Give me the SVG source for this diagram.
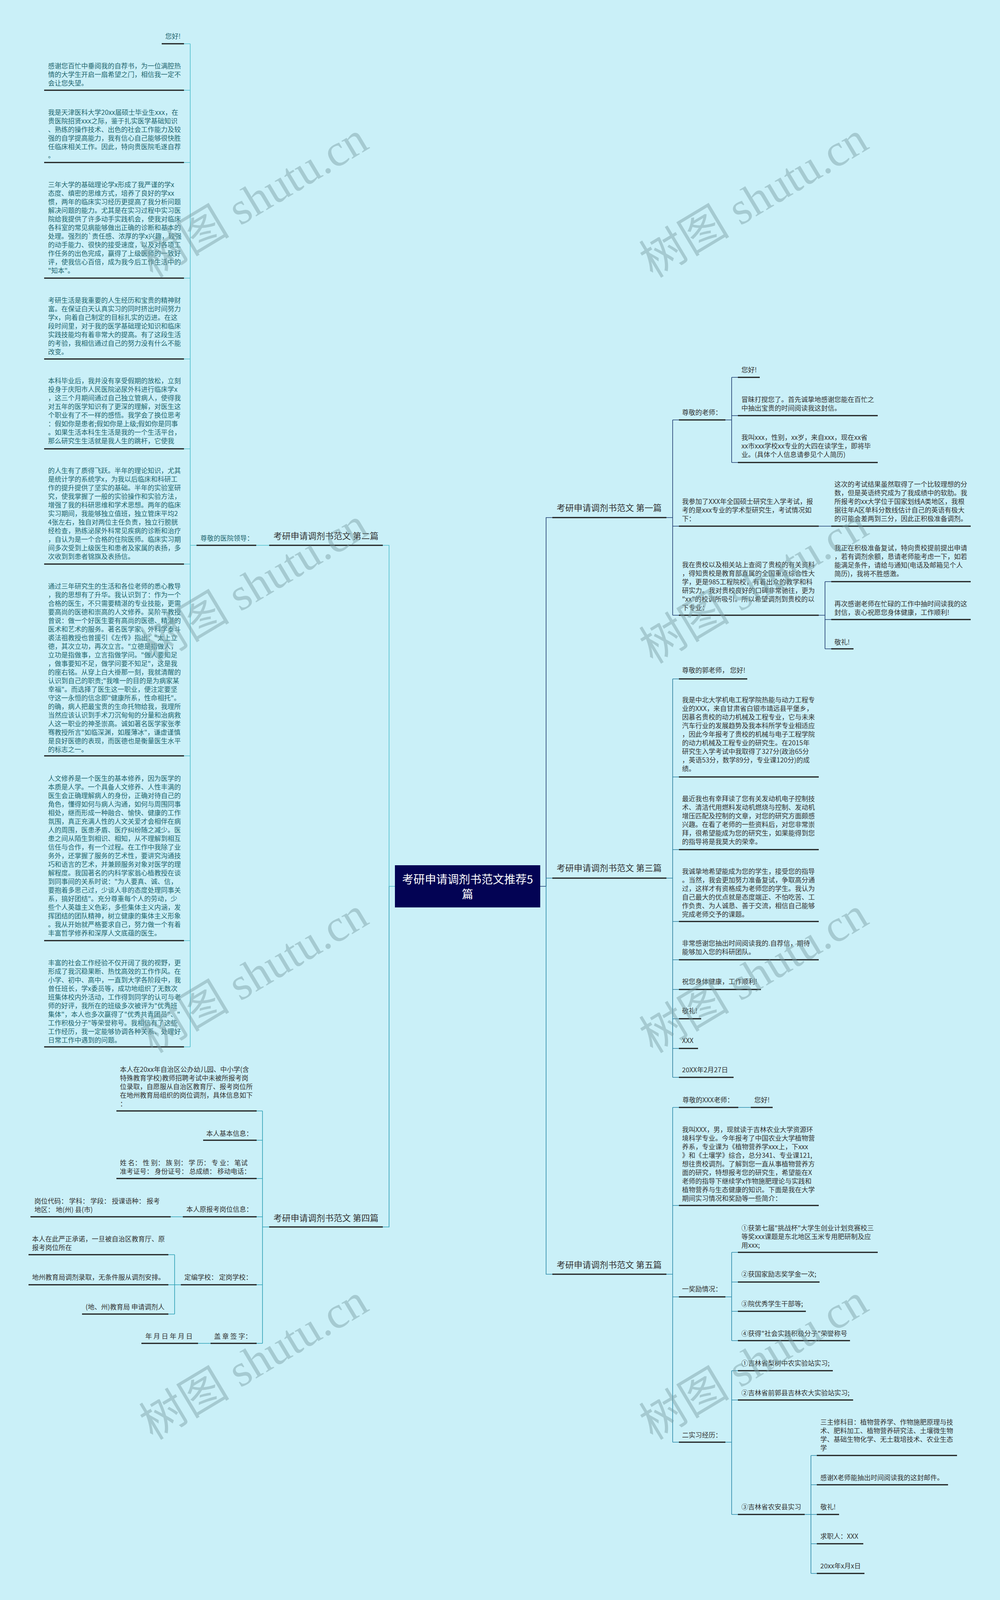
<svg xmlns="http://www.w3.org/2000/svg" width="2560" height="4102" viewBox="0 0 2560 4102">
<style>
.t{font-family:"Noto Sans CJK SC","Liberation Sans",sans-serif;font-size:17px;fill:#333}
.g{fill:#22666f}
.lab{font-family:"Noto Sans CJK SC","Liberation Sans",sans-serif;font-size:22px;fill:#333}
.root{font-family:"Noto Sans CJK SC","Liberation Sans",sans-serif;font-size:29px;fill:#fff;text-anchor:middle}
.ul{stroke:#1a1a1a;stroke-width:3;fill:none}
.c{fill:none;stroke-width:1.6}
.c1{stroke:#1d3b6e}.c2{stroke:#4fbfcc}.c3{stroke:#2a7d9c}.c4{stroke:#2c9fb4}.c5{stroke:#2b89a8}
.wm{font-family:"Liberation Serif","Noto Sans CJK SC",serif;font-size:116px;fill:#7a9ea3;opacity:0.45;text-anchor:middle;dominant-baseline:central}
</style>
<rect width="2560" height="4102" fill="#caf0f8"/>

<g id="connectors">
<path class="c c1" d="M1383 2269H1398V1325H1414M1706 1325H1722M1722 1075V1575M1722 1075H1738M1722 1347H1738M1722 1575H1738M1857 1075H1873M1873 966V1184M1873 966H1889M1873 1064H1889M1873 1184H1889M2096 1347H2128M2096 1575H2112M2112 1489V1661M2112 1489H2128M2112 1586H2128M2112 1661H2128"/>
<path class="c c2" d="M1011 2269H996V1396H980M689 1396H656M503 1396H487M487 112V2680M471 112H487M471 231H487M471 416H487M471 712H487M471 919H487M471 1149H487M471 1444H487M471 1935H487M471 2408H487M471 2680H487"/>
<path class="c c4" d="M996 2269V3141H980M689 3141H672M672 2844V3439M657 2844H672M657 2919H672M657 3017H672M657 3115H672M657 3289H672M657 3439H672M468 3115H437M463 3289H447M447 3212V3364M447 3212H431M447 3289H431M447 3364H431M539 3439H507"/>
<path class="c c3" d="M1398 2269V2248H1414M1706 2248H1722M1722 1738V2758M1722 1738H1738M1722 1989H1738M1722 2175H1738M1722 2359H1738M1722 2457H1738M1722 2533H1738M1722 2608H1738M1722 2684H1738M1722 2758H1738"/>
<path class="c c5" d="M1398 2269V3262H1414M1706 3262H1722M1722 2835V3692M1722 2835H1738M1722 3086H1738M1722 3320H1738M1722 3692H1738M1890 2835H1922M1857 3320H1873M1873 3206V3432M1873 3206H1889M1873 3282H1889M1873 3357H1889M1873 3432H1889M1857 3692H1873M1873 3509V3877M1873 3509H1889M1873 3584H1889M1873 3877H1889M2060 3877H2076M2076 3726V4028M2076 3726H2091M2076 3801H2091M2076 3877H2091M2076 3952H2091M2076 4028H2091"/>
</g>

<g id="root">
<rect x="1011" y="2215" width="372" height="108" fill="#030354"/>
<text class="root" x="1197" y="2262">考研申请调剂书范文推荐5</text>
<text class="root" x="1197" y="2300">篇</text>
</g>

<g id="b2">
<text class="lab" x="700" y="1380">考研申请调剂书范文 第二篇</text>
<line class="ul" x1="689" y1="1396" x2="980" y2="1396"/>
</g>
<g id="b2-lead">
<text class="t g" x="513" y="1384" font-size="16">尊敬的医院领导：</text>
<line class="ul" x1="503" y1="1396" x2="656" y2="1396"/>
</g>
<g id="b2-1">
<text class="t g" x="423" y="99">您好!</text>
<line class="ul" x1="414" y1="112" x2="471" y2="112"/>
</g>
<g id="b2-2">
<text class="t g" x="123" y="175"><tspan x="123">感谢您百忙中垂阅我的自荐书，为一位满腔热</tspan><tspan x="123" dy="22">情的大学生开启一扇希望之门，相信我一定不</tspan><tspan x="123" dy="22">会让您失望。</tspan></text>
<line class="ul" x1="113" y1="231" x2="471" y2="231"/>
</g>
<g id="b2-3">
<text class="t g" x="123" y="294"><tspan x="123">我是天津医科大学20xx届硕士毕业生xxx，在</tspan><tspan x="123" dy="22">贵医院招贤xxx之际，鉴于扎实医学基础知识</tspan><tspan x="123" dy="22">、熟练的操作技术、出色的社会工作能力及较</tspan><tspan x="123" dy="22">强的自学提高能力，我有信心自己能够很快胜</tspan><tspan x="123" dy="22">任临床相关工作。因此，特向贵医院毛遂自荐</tspan><tspan x="123" dy="22">。</tspan></text>
<line class="ul" x1="113" y1="416" x2="471" y2="416"/>
</g>
<g id="b2-4">
<text class="t g" x="123" y="479"><tspan x="123">三年大学的基础理论学x形成了我严谨的学x</tspan><tspan x="123" dy="22">态度、缜密的思维方式，培养了良好的学xx</tspan><tspan x="123" dy="22">惯，两年的临床实习经历更提高了我分析问题</tspan><tspan x="123" dy="22">解决问题的能力。尤其是在实习过程中实习医</tspan><tspan x="123" dy="22">院给我提供了许多动手实践机会，使我对临床</tspan><tspan x="123" dy="22">各科室的常见病能够做出正确的诊断和基本的</tspan><tspan x="123" dy="22">处理。强烈的`责任感、浓厚的学x兴趣，较强</tspan><tspan x="123" dy="22">的动手能力、很快的接受速度，以及对各项工</tspan><tspan x="123" dy="22">作任务的出色完成，赢得了上级医师的一致好</tspan><tspan x="123" dy="22">评，使我信心百倍，成为我今后工作生活中的</tspan><tspan x="123" dy="22">"知本"。</tspan></text>
<line class="ul" x1="113" y1="712" x2="471" y2="712"/>
</g>
<g id="b2-5">
<text class="t g" x="123" y="775"><tspan x="123">考研生活是我重要的人生经历和宝贵的精神财</tspan><tspan x="123" dy="22">富。在保证白天认真实习的同时挤出时间努力</tspan><tspan x="123" dy="22">学x，向着自己制定的目标扎实的迈进。在这</tspan><tspan x="123" dy="22">段时间里，对于我的医学基础理论知识和临床</tspan><tspan x="123" dy="22">实践技能均有着非常大的提高。有了这段生活</tspan><tspan x="123" dy="22">的考验，我相信通过自己的努力没有什么不能</tspan><tspan x="123" dy="22">改变。</tspan></text>
<line class="ul" x1="113" y1="919" x2="471" y2="919"/>
</g>
<g id="b2-6">
<text class="t g" x="123" y="981"><tspan x="123">本科毕业后，我并没有享受假期的放松，立刻</tspan><tspan x="123" dy="22">投身于庆阳市人民医院泌尿外科进行临床学x</tspan><tspan x="123" dy="22">，这三个月期间通过自己独立管病人，使得我</tspan><tspan x="123" dy="22">对五年的医学知识有了更深的理解，对医生这</tspan><tspan x="123" dy="22">个职业有了不一样的感悟。我学会了换位思考</tspan><tspan x="123" dy="22">：假如你是患者;假如你是上级;假如你是同事</tspan><tspan x="123" dy="22">。如果生活本科生生活是我的一个生活平台，</tspan><tspan x="123" dy="22">那么研究生生活就是我人生的跳杆，它使我</tspan></text>
<line class="ul" x1="113" y1="1149" x2="471" y2="1149"/>
</g>
<g id="b2-7">
<text class="t g" x="123" y="1211"><tspan x="123">的人生有了质得飞跃。半年的理论知识，尤其</tspan><tspan x="123" dy="22">是统计学的系统学x，为我以后临床和科研工</tspan><tspan x="123" dy="22">作的提升提供了坚实的基础。半年的实验室研</tspan><tspan x="123" dy="22">究，使我掌握了一般的实验操作和实验方法，</tspan><tspan x="123" dy="22">增强了我的科研思维和学术思想。两年的临床</tspan><tspan x="123" dy="22">实习期间，我能够独立值班，独立管床平均2</tspan><tspan x="123" dy="22">4张左右，独自对两位主任负责，独立行膀胱</tspan><tspan x="123" dy="22">经检查，熟练泌尿外科常见疾病的诊断和治疗</tspan><tspan x="123" dy="22">，自认为是一个合格的住院医师。临床实习期</tspan><tspan x="123" dy="22">间多次受到上级医生和患者及家属的表扬，多</tspan><tspan x="123" dy="22">次收到到患者锦旗及表扬信。</tspan></text>
<line class="ul" x1="113" y1="1444" x2="471" y2="1444"/>
</g>
<g id="b2-8">
<text class="t g" x="123" y="1507"><tspan x="123">通过三年研究生的生活和各位老师的悉心教导</tspan><tspan x="123" dy="22">，我的思想有了升华。我认识到了：作为一个</tspan><tspan x="123" dy="22">合格的医生，不只需要精湛的专业技能，更需</tspan><tspan x="123" dy="22">要高尚的医德和崇高的人文修养。吴阶平教授</tspan><tspan x="123" dy="22">曾说：做一个好医生要有高尚的医德、精湛的</tspan><tspan x="123" dy="22">医术和艺术的服务。著名医学家、外科学泰斗</tspan><tspan x="123" dy="22">裘法祖教授也曾援引《左传》指出："太上立</tspan><tspan x="123" dy="22">德，其次立功，再次立言。"立德是指做人，</tspan><tspan x="123" dy="22">立功是指做事，立言指做学问。"做人要知足</tspan><tspan x="123" dy="22">，做事要知不足，做学问要不知足"，这是我</tspan><tspan x="123" dy="22">的座右铭。从穿上白大褂那一刻，我就清醒的</tspan><tspan x="123" dy="22">认识到自己的职责;"我唯一的目的是为病家某</tspan><tspan x="123" dy="22">幸福"。而选择了医生这一职业，便注定要坚</tspan><tspan x="123" dy="22">守这一永恒的信念即"健康所系，性命相托"。</tspan><tspan x="123" dy="22">的确，病人把最宝贵的生命托物给我，我理所</tspan><tspan x="123" dy="22">当然应该认识到手术刀沉甸甸的分量和治病救</tspan><tspan x="123" dy="22">人这一职业的神圣崇高。诚如著名医学家张孝</tspan><tspan x="123" dy="22">骞教授所言"如临深渊，如履薄冰"，谦虚谨慎</tspan><tspan x="123" dy="22">是良好医德的表现，而医德也是衡量医生水平</tspan><tspan x="123" dy="22">的标志之一。</tspan></text>
<line class="ul" x1="113" y1="1935" x2="471" y2="1935"/>
</g>
<g id="b2-9">
<text class="t g" x="123" y="1999"><tspan x="123">人文修养是一个医生的基本修养，因为医学的</tspan><tspan x="123" dy="22">本质是人学。一个具备人文修养、人性丰满的</tspan><tspan x="123" dy="22">医生会正确理解病人的身份，正确对待自己的</tspan><tspan x="123" dy="22">角色，懂得如何与病人沟通，如何与周围同事</tspan><tspan x="123" dy="22">相处，继而形成一种融合、愉快、健康的工作</tspan><tspan x="123" dy="22">氛围，真正充满人性的人文关爱才会相伴在病</tspan><tspan x="123" dy="22">人的周围，医患矛盾、医疗纠纷随之减少。医</tspan><tspan x="123" dy="22">患之间从陌生到相识、相知，从不理解到相互</tspan><tspan x="123" dy="22">信任与合作，有一个过程。在工作中我除了业</tspan><tspan x="123" dy="22">务外，还掌握了服务的艺术性，要讲究沟通技</tspan><tspan x="123" dy="22">巧和语言的艺术，并兼顾服务对象对医学的理</tspan><tspan x="123" dy="22">解程度。我国著名的内科学家翁心植教授在谈</tspan><tspan x="123" dy="22">到同事间的关系时说："为人要真、诚、信，</tspan><tspan x="123" dy="22">要抱着多思己过，少谈人非的态度处理同事关</tspan><tspan x="123" dy="22">系，搞好团结"。充分尊重每个人的劳动，少</tspan><tspan x="123" dy="22">些个人英雄主义色彩，多些集体主义内涵，发</tspan><tspan x="123" dy="22">挥团结的团队精神，树立健康的集体主义形象</tspan><tspan x="123" dy="22">。我从开始就严格要求自己，努力做一个有着</tspan><tspan x="123" dy="22">丰富哲学修养和深厚人文底蕴的医生。</tspan></text>
<line class="ul" x1="113" y1="2408" x2="471" y2="2408"/>
</g>
<g id="b2-10">
<text class="t g" x="123" y="2471"><tspan x="123">丰富的社会工作经验不仅开阔了我的视野，更</tspan><tspan x="123" dy="22">形成了我沉稳果断、热忱高效的工作作风。在</tspan><tspan x="123" dy="22">小学、初中、高中，一直到大学各阶段中，我</tspan><tspan x="123" dy="22">曾任班长，学x委员等，成功地组织了无数次</tspan><tspan x="123" dy="22">班集体校内外活动，工作得到同学的认可与老</tspan><tspan x="123" dy="22">师的好评，我所在的班级多次被评为"优秀班</tspan><tspan x="123" dy="22">集体"，本人也多次赢得了"优秀共青团员"、"</tspan><tspan x="123" dy="22">工作积极分子"等荣誉称号。我相信有了这些</tspan><tspan x="123" dy="22">工作经历，我一定能够协调各种关系、处理好</tspan><tspan x="123" dy="22">日常工作中遇到的问题。</tspan></text>
<line class="ul" x1="113" y1="2680" x2="471" y2="2680"/>
</g>

<g id="b4">
<text class="lab" x="700" y="3126">考研申请调剂书范文 第四篇</text>
<line class="ul" x1="689" y1="3141" x2="980" y2="3141"/>
</g>
<g id="b4-1">
<text class="t" x="307" y="2744"><tspan x="307">本人在20xx年自治区公办幼儿园、中小学(含</tspan><tspan x="307" dy="22">特殊教育学校)教师招聘考试中未被所报考岗</tspan><tspan x="307" dy="22">位录取，自愿服从自治区教育厅、报考岗位所</tspan><tspan x="307" dy="22">在地州教育局组织的岗位调剂，具体信息如下</tspan><tspan x="307" dy="22">：</tspan></text>
<line class="ul" x1="298" y1="2844" x2="657" y2="2844"/>
</g>
<g id="b4-2">
<text class="t" x="528" y="2908">本人基本信息：</text>
<line class="ul" x1="520" y1="2919" x2="657" y2="2919"/>
</g>
<g id="b4-3">
<text class="t" x="307" y="2983"><tspan x="307">姓 名： 性 别： 族 别： 学 历： 专 业： 笔试</tspan><tspan x="307" dy="22">准考证号： 身份证号： 总成绩： 移动电话：</tspan></text>
<line class="ul" x1="298" y1="3017" x2="657" y2="3017"/>
</g>
<g id="b4-4">
<text class="t" x="477" y="3102">本人原报考岗位信息：</text>
<line class="ul" x1="468" y1="3115" x2="657" y2="3115"/>
</g>
<g id="b4-4-1">
<text class="t" x="88" y="3081"><tspan x="88">岗位代码： 学科： 学段： 授课语种： 报考</tspan><tspan x="88" dy="22">地区： 地(州) 县(市)</tspan></text>
<line class="ul" x1="78" y1="3115" x2="437" y2="3115"/>
</g>
<g id="b4-5">
<text class="t" x="472" y="3276">定编学校： 定岗学校：</text>
<line class="ul" x1="463" y1="3289" x2="657" y2="3289"/>
</g>
<g id="b4-5-1">
<text class="t" x="82" y="3178"><tspan x="82">本人在此严正承诺，一旦被自治区教育厅、原</tspan><tspan x="82" dy="22">报考岗位所在</tspan></text>
<line class="ul" x1="73" y1="3212" x2="431" y2="3212"/>
</g>
<g id="b4-5-2">
<text class="t" x="82" y="3276">地州教育局调剂录取，无条件服从调剂安排。</text>
<line class="ul" x1="73" y1="3289" x2="431" y2="3289"/>
</g>
<g id="b4-5-3">
<text class="t" x="219" y="3352">(地、州)教育局 申请调剂人</text>
<line class="ul" x1="210" y1="3364" x2="431" y2="3364"/>
</g>
<g id="b4-6">
<text class="t" x="548" y="3427">盖 章 签 字：</text>
<line class="ul" x1="539" y1="3439" x2="657" y2="3439"/>
</g>
<g id="b4-6-1">
<text class="t" x="372" y="3427">年 月 日 年 月 日</text>
<line class="ul" x1="362" y1="3439" x2="507" y2="3439"/>
</g>

<g id="b1">
<text class="lab" x="1425" y="1308">考研申请调剂书范文 第一篇</text>
<line class="ul" x1="1414" y1="1325" x2="1706" y2="1325"/>
</g>
<g id="b1-1">
<text class="t" x="1746" y="1062">尊敬的老师：</text>
<line class="ul" x1="1738" y1="1075" x2="1857" y2="1075"/>
</g>
<g id="b1-1-1">
<text class="t" x="1898" y="953">您好!</text>
<line class="ul" x1="1889" y1="966" x2="1945" y2="966"/>
</g>
<g id="b1-1-2">
<text class="t" x="1898" y="1029"><tspan x="1898">冒昧打搅您了。首先诚挚地感谢您能在百忙之</tspan><tspan x="1898" dy="22">中抽出宝贵的时间阅读我这封信。</tspan></text>
<line class="ul" x1="1889" y1="1064" x2="2247" y2="1064"/>
</g>
<g id="b1-1-3">
<text class="t" x="1898" y="1126"><tspan x="1898">我叫xxx，性别，xx岁，来自xxx，现在xx省</tspan><tspan x="1898" dy="22">xx市xxx学校xx专业的大四在读学生，即将毕</tspan><tspan x="1898" dy="22">业。(具体个人信息请参见个人简历)</tspan></text>
<line class="ul" x1="1889" y1="1184" x2="2247" y2="1184"/>
</g>
<g id="b1-2">
<text class="t" x="1746" y="1290"><tspan x="1746">我参加了XXX年全国硕士研究生入学考试，报</tspan><tspan x="1746" dy="22">考的是xxx专业的学术型研究生，考试情况如</tspan><tspan x="1746" dy="22">下：</tspan></text>
<line class="ul" x1="1738" y1="1347" x2="2096" y2="1347"/>
</g>
<g id="b1-2-1">
<text class="t" x="2136" y="1246"><tspan x="2136">这次的考试结果虽然取得了一个比较理想的分</tspan><tspan x="2136" dy="22">数，但是英语终究成为了我成绩中的软肋。我</tspan><tspan x="2136" dy="22">所报考的xx大学位于国家划线A类地区，我根</tspan><tspan x="2136" dy="22">据往年A区单科分数线估计自己的英语有极大</tspan><tspan x="2136" dy="22">的可能会差两到三分，因此正积极准备调剂。</tspan></text>
<line class="ul" x1="2128" y1="1347" x2="2485" y2="1347"/>
</g>
<g id="b1-3">
<text class="t" x="1746" y="1452"><tspan x="1746">我在贵校以及相关站上查阅了贵校的有关资料</tspan><tspan x="1746" dy="22">，得知贵校是教育部直属的全国重点综合性大</tspan><tspan x="1746" dy="22">学，更是985工程院校，有着出众的教学和科</tspan><tspan x="1746" dy="22">研实力。我对贵校良好的口碑非常驰往，更为</tspan><tspan x="1746" dy="22">"xx"的校训所吸引。所以希望调剂到贵校的以</tspan><tspan x="1746" dy="22">下专业：</tspan></text>
<line class="ul" x1="1738" y1="1575" x2="2096" y2="1575"/>
</g>
<g id="b1-3-1">
<text class="t" x="2136" y="1409"><tspan x="2136">我正在积极准备复试，特向贵校提前提出申请</tspan><tspan x="2136" dy="22">，若有调剂余额，恳请老师能考虑一下，如若</tspan><tspan x="2136" dy="22">能满足条件，请给与通知(电话及邮箱见个人</tspan><tspan x="2136" dy="22">简历)，我将不胜感激。</tspan></text>
<line class="ul" x1="2128" y1="1489" x2="2485" y2="1489"/>
</g>
<g id="b1-3-2">
<text class="t" x="2136" y="1552"><tspan x="2136">再次感谢老师在忙碌的工作中抽时间读我的这</tspan><tspan x="2136" dy="22">封信，衷心祝愿您身体健康，工作顺利!</tspan></text>
<line class="ul" x1="2128" y1="1586" x2="2485" y2="1586"/>
</g>
<g id="b1-3-3">
<text class="t" x="2136" y="1650">敬礼!</text>
<line class="ul" x1="2128" y1="1661" x2="2185" y2="1661"/>
</g>

<g id="b3">
<text class="lab" x="1425" y="2230">考研申请调剂书范文 第三篇</text>
<line class="ul" x1="1414" y1="2248" x2="1706" y2="2248"/>
</g>
<g id="b3-1">
<text class="t" x="1746" y="1722">尊敬的郭老师， 您好!</text>
<line class="ul" x1="1738" y1="1738" x2="1913" y2="1738"/>
</g>
<g id="b3-2">
<text class="t" x="1746" y="1798"><tspan x="1746">我是中北大学机电工程学院热能与动力工程专</tspan><tspan x="1746" dy="22">业的XXX，来自甘肃省白银市靖远县平堡乡，</tspan><tspan x="1746" dy="22">因慕名贵校的动力机械及工程专业，它与未来</tspan><tspan x="1746" dy="22">汽车行业的发展趋势及我本科所学专业相适应</tspan><tspan x="1746" dy="22">，因此今年报考了贵校的机械与电子工程学院</tspan><tspan x="1746" dy="22">的动力机械及工程专业的研究生。在2015年</tspan><tspan x="1746" dy="22">研究生入学考试中我取得了327分(政治65分</tspan><tspan x="1746" dy="22">，英语53分，数学89分，专业课120分)的成</tspan><tspan x="1746" dy="22">绩。</tspan></text>
<line class="ul" x1="1738" y1="1989" x2="2096" y2="1989"/>
</g>
<g id="b3-3">
<text class="t" x="1746" y="2051"><tspan x="1746">最近我也有幸拜读了您有关发动机电子控制技</tspan><tspan x="1746" dy="22">术、清洁代用燃料发动机燃烧与控制、发动机</tspan><tspan x="1746" dy="22">增压匹配及控制的文章，对您的研究方面颇感</tspan><tspan x="1746" dy="22">兴趣。在看了老师的一些资料后，对您非常崇</tspan><tspan x="1746" dy="22">拜，很希望能成为您的研究生，如果能得到您</tspan><tspan x="1746" dy="22">的指导将是我莫大的荣幸。</tspan></text>
<line class="ul" x1="1738" y1="2175" x2="2096" y2="2175"/>
</g>
<g id="b3-4">
<text class="t" x="1746" y="2237"><tspan x="1746">我诚挚地希望能成为您的学生，接受您的指导</tspan><tspan x="1746" dy="22">。当然，我会更加努力准备复试，争取高分通</tspan><tspan x="1746" dy="22">过，这样才有资格成为老师您的学生。我认为</tspan><tspan x="1746" dy="22">自己最大的优点就是态度端正、不怕吃苦、工</tspan><tspan x="1746" dy="22">作负责、为人诚恳、善于交流，相信自己能够</tspan><tspan x="1746" dy="22">完成老师交予的课题。</tspan></text>
<line class="ul" x1="1738" y1="2359" x2="2096" y2="2359"/>
</g>
<g id="b3-5">
<text class="t" x="1746" y="2421"><tspan x="1746">非常感谢您抽出时间阅读我的.自荐信，期待</tspan><tspan x="1746" dy="22">能够加入您的科研团队。</tspan></text>
<line class="ul" x1="1738" y1="2457" x2="2096" y2="2457"/>
</g>
<g id="b3-6">
<text class="t" x="1746" y="2519">祝您身体健康，工作顺利!</text>
<line class="ul" x1="1738" y1="2533" x2="1948" y2="2533"/>
</g>
<g id="b3-7">
<text class="t" x="1746" y="2594">敬礼!</text>
<line class="ul" x1="1738" y1="2608" x2="1795" y2="2608"/>
</g>
<g id="b3-8">
<text class="t" x="1746" y="2670">XXX</text>
<line class="ul" x1="1738" y1="2684" x2="1787" y2="2684"/>
</g>
<g id="b3-9">
<text class="t" x="1746" y="2745">20XX年2月27日</text>
<line class="ul" x1="1738" y1="2758" x2="1878" y2="2758"/>
</g>

<g id="b5">
<text class="lab" x="1425" y="3246">考研申请调剂书范文 第五篇</text>
<line class="ul" x1="1414" y1="3262" x2="1706" y2="3262"/>
</g>
<g id="b5-1">
<text class="t" x="1747" y="2822">尊敬的XXX老师：</text>
<line class="ul" x1="1738" y1="2835" x2="1890" y2="2835"/>
</g>
<g id="b5-1-1">
<text class="t" x="1931" y="2822">您好!</text>
<line class="ul" x1="1922" y1="2835" x2="1978" y2="2835"/>
</g>
<g id="b5-2">
<text class="t" x="1746" y="2898"><tspan x="1746">我叫XXX，男，现就读于吉林农业大学资源环</tspan><tspan x="1746" dy="22">境科学专业。今年报考了中国农业大学植物营</tspan><tspan x="1746" dy="22">养系，专业课为《植物营养学xxx上，下xxx</tspan><tspan x="1746" dy="22">》和《土壤学》综合，总分341、专业课121,</tspan><tspan x="1746" dy="22">想往贵校调剂。了解到您一直从事植物营养方</tspan><tspan x="1746" dy="22">面的研究，特想报考您的研究生，希望能在X</tspan><tspan x="1746" dy="22">老师的指导下继续学x作物施肥理论与实践和</tspan><tspan x="1746" dy="22">植物营养与生态健康的知识。下面是我在大学</tspan><tspan x="1746" dy="22">期间实习情况和奖励等一些简介：</tspan></text>
<line class="ul" x1="1738" y1="3086" x2="2096" y2="3086"/>
</g>
<g id="b5-3">
<text class="t" x="1746" y="3306">一奖励情况：</text>
<line class="ul" x1="1738" y1="3320" x2="1857" y2="3320"/>
</g>
<g id="b5-3-1">
<text class="t" x="1898" y="3150"><tspan x="1898">①获第七届"挑战杯"大学生创业计划竞赛校三</tspan><tspan x="1898" dy="22">等奖xxx课题是东北地区玉米专用肥研制及应</tspan><tspan x="1898" dy="22">用xxx;</tspan></text>
<line class="ul" x1="1889" y1="3206" x2="2247" y2="3206"/>
</g>
<g id="b5-3-2">
<text class="t" x="1898" y="3268">②获国家励志奖学金一次;</text>
<line class="ul" x1="1889" y1="3282" x2="2098" y2="3282"/>
</g>
<g id="b5-3-3">
<text class="t" x="1898" y="3344">③院优秀学生干部等;</text>
<line class="ul" x1="1889" y1="3357" x2="2063" y2="3357"/>
</g>
<g id="b5-3-4">
<text class="t" x="1898" y="3420">④获得"社会实践积极分子"荣誉称号</text>
<line class="ul" x1="1889" y1="3432" x2="2176" y2="3432"/>
</g>
<g id="b5-4">
<text class="t" x="1746" y="3680">二实习经历：</text>
<line class="ul" x1="1738" y1="3692" x2="1857" y2="3692"/>
</g>
<g id="b5-4-1">
<text class="t" x="1898" y="3496">①吉林省梨树中农实验站实习;</text>
<line class="ul" x1="1889" y1="3509" x2="2132" y2="3509"/>
</g>
<g id="b5-4-2">
<text class="t" x="1898" y="3572">②吉林省前郭县吉林农大实验站实习;</text>
<line class="ul" x1="1889" y1="3584" x2="2184" y2="3584"/>
</g>
<g id="b5-4-3">
<text class="t" x="1898" y="3864">③吉林省农安县实习</text>
<line class="ul" x1="1889" y1="3877" x2="2060" y2="3877"/>
</g>
<g id="b5-4-3-1">
<text class="t" x="2100" y="3647"><tspan x="2100">三主修科目：植物营养学、作物施肥原理与技</tspan><tspan x="2100" dy="22">术、肥料加工、植物营养研究法、土壤微生物</tspan><tspan x="2100" dy="22">学、基础生物化学、无土栽培技术、农业生态</tspan><tspan x="2100" dy="22">学</tspan></text>
<line class="ul" x1="2091" y1="3726" x2="2450" y2="3726"/>
</g>
<g id="b5-4-3-2">
<text class="t" x="2100" y="3789">感谢X老师能抽出时间阅读我的这封邮件。</text>
<line class="ul" x1="2091" y1="3801" x2="2427" y2="3801"/>
</g>
<g id="b5-4-3-3">
<text class="t" x="2100" y="3864">敬礼!</text>
<line class="ul" x1="2091" y1="3877" x2="2148" y2="3877"/>
</g>
<g id="b5-4-3-4">
<text class="t" x="2100" y="3939">求职人：XXX</text>
<line class="ul" x1="2091" y1="3952" x2="2210" y2="3952"/>
</g>
<g id="b5-4-3-5">
<text class="t" x="2100" y="4015">20xx年x月x日</text>
<line class="ul" x1="2091" y1="4028" x2="2213" y2="4028"/>
</g>

<g id="watermark">
<text class="wm" transform="translate(650,512) rotate(-31)">树图 shutu.cn</text>
<text class="wm" transform="translate(1930,512) rotate(-31)">树图 shutu.cn</text>
<text class="wm" transform="translate(650,1500) rotate(-31)">树图 shutu.cn</text>
<text class="wm" transform="translate(1930,1500) rotate(-31)">树图 shutu.cn</text>
<text class="wm" transform="translate(650,2497) rotate(-31)">树图 shutu.cn</text>
<text class="wm" transform="translate(1930,2497) rotate(-31)">树图 shutu.cn</text>
<text class="wm" transform="translate(650,3487) rotate(-31)">树图 shutu.cn</text>
<text class="wm" transform="translate(1930,3487) rotate(-31)">树图 shutu.cn</text>
</g>
</svg>
